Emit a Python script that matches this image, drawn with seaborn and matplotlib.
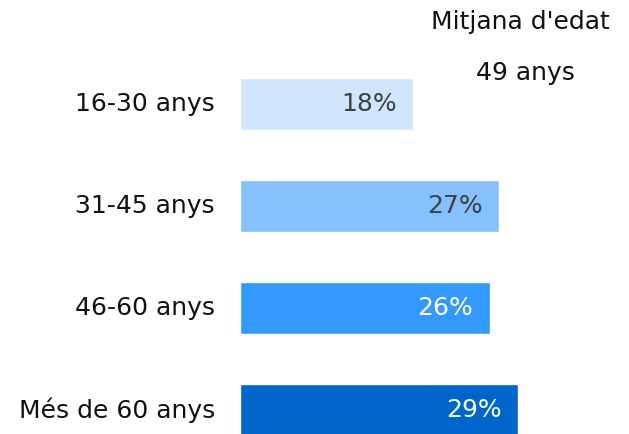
import matplotlib
matplotlib.use("Agg")
import matplotlib.pyplot as plt
import seaborn as sns
import pandas as pd

# Age distribution data
categories = ["16-30 anys", "31-45 anys", "46-60 anys", "Més de 60 anys"]
shares = [18, 27, 26, 29]
bar_colors = ["#D0E6FF", "#85C1FF", "#3399FF", "#0066CC"]
label_colors = ["#404040", "#404040", "#FFFFFF", "#FFFFFF"]
mean_title = "Mitjana d'edat"
mean_value = "49 anys"

df = pd.DataFrame({"grup": categories, "percent": shares})

sns.set_theme(style="white")
plt.rcParams["font.family"] = ["DejaVu Sans"]

W, H = 629, 434
fig = plt.figure(figsize=(W / 100, H / 100), dpi=100)
ax = fig.add_axes([240 / W, 0, 1 - 240 / W, 1])

sns.barplot(data=df, y="grup", x="percent", hue="grup", palette=bar_colors,
            order=categories, hue_order=categories, orient="h",
            width=0.51, legend=False, ax=ax, saturation=1)

ax.set_xlim(0, (W - 240) / 9.6)
ax.set_ylim((H - 104) / 102, -104 / 102)
ax.axis("off")

fs = 18
for i, (cat, val) in enumerate(zip(categories, shares)):
    ax.text(val - 1.7, i, f"{val}%", ha="right", va="center",
            color=label_colors[i], fontsize=fs)
    ax.text(-2.6, i, cat, ha="right", va="center", color="#111111",
            fontsize=fs, clip_on=False)

fig.text(520 / W, 1 - 22 / H, mean_title, ha="center", va="center",
         color="#111111", fontsize=fs)
fig.text(525 / W, 1 - 73 / H, mean_value, ha="center", va="center",
         color="#111111", fontsize=fs)

fig.savefig("out.png", dpi=100)
